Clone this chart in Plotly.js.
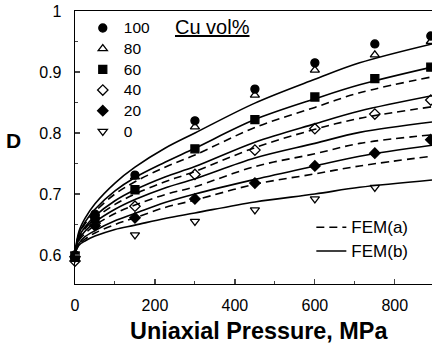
<!DOCTYPE html>
<html>
<head>
<meta charset="utf-8">
<script src="https://cdn.plot.ly/plotly-3.0.1.min.js"></script>
<style>html,body{margin:0;padding:0;background:#fff}#chart{width:432px;height:345px}</style>
</head>
<body>
<div id="chart"></div>
<script>
// Measured points (uniaxial pressure, MPa) and relative density D
const pressurePts = [0, 50, 150, 300, 450, 600, 750, 890];
const cu100 = [0.600, 0.667, 0.731, 0.820, 0.872, 0.915, 0.946, 0.959];
const cu80  = [0.597, 0.664, 0.728, 0.810, 0.862, 0.903, 0.928, 0.950];
const cu60  = [0.596, 0.660, 0.707, 0.774, 0.822, 0.859, 0.889, 0.908];
const cu40  = [0.590, 0.652, 0.680, 0.732, 0.772, 0.807, 0.831, 0.854];
const cu20  = [0.597, 0.648, 0.661, 0.692, 0.718, 0.746, 0.767, 0.789];
const cu0   = [0.602, null, 0.633, 0.655, 0.674, 0.692, 0.711, null];
const seriesNames = ['100', '80', '60', '40', '20', '0'];

// FEM curves
const pressureCurve = [0, 10, 25, 50, 100, 150, 225, 300, 450, 600, 712, 893];
const femB1 = [0.603, 0.639, 0.660, 0.684, 0.718, 0.744, 0.775, 0.800, 0.849, 0.888, 0.915, 0.946];
const femB2 = [0.603, 0.635, 0.654, 0.675, 0.705, 0.727, 0.752, 0.775, 0.822, 0.856, 0.879, 0.908];
const femA1 = [0.603, 0.634, 0.651, 0.671, 0.700, 0.720, 0.744, 0.764, 0.809, 0.842, 0.866, 0.892];
const femB3 = [0.603, 0.630, 0.646, 0.664, 0.689, 0.707, 0.728, 0.745, 0.785, 0.815, 0.836, 0.861];
const femA2 = [0.603, 0.628, 0.643, 0.660, 0.683, 0.700, 0.720, 0.737, 0.776, 0.806, 0.824, 0.843];
const femB4 = [0.603, 0.626, 0.639, 0.654, 0.675, 0.691, 0.710, 0.725, 0.759, 0.783, 0.801, 0.818];
const femA3 = [0.603, 0.624, 0.635, 0.649, 0.668, 0.682, 0.699, 0.712, 0.745, 0.766, 0.783, 0.797];
const femB5 = [0.603, 0.619, 0.630, 0.640, 0.656, 0.668, 0.686, 0.700, 0.724, 0.746, 0.762, 0.780];
const femA4 = [0.603, 0.617, 0.626, 0.636, 0.650, 0.661, 0.678, 0.690, 0.716, 0.733, 0.746, 0.762];
const femB6 = [0.603, 0.616, 0.623, 0.631, 0.642, 0.649, 0.660, 0.669, 0.687, 0.700, 0.711, 0.723];
const femNames = ['FEM(a)', 'FEM(b)'];

const xTicks = [0, 200, 400, 600, 800];
const yTicks = [0.6, 0.7, 0.8, 0.9, 1];
const yTickText = ['0.6', '0.7', '0.8', '0.9', '1'];

const FONT = 'Liberation Sans, Arial, Helvetica, sans-serif';
const traces = [];

const solidCurves = [femB1, femB2, femB3, femB4, femB5, femB6];
const dashedCurves = [femA1, femA2, femA3, femA4];

dashedCurves.forEach((c, i) => traces.push({
  x: pressureCurve, y: c, type: 'scatter', mode: 'lines',
  line: {color: '#000', width: 1.6, dash: '8px,5px', shape: 'spline', smoothing: 1},
  name: '<span style="font-size:17px">' + femNames[0] + '</span>',
  legend: 'legend2', showlegend: i === 0, hoverinfo: 'skip'
}));
solidCurves.forEach((c, i) => traces.push({
  x: pressureCurve, y: c, type: 'scatter', mode: 'lines',
  line: {color: '#000', width: 1.6, shape: 'spline', smoothing: 1},
  name: '<span style="font-size:17px">' + femNames[1] + '</span>',
  legend: 'legend2', showlegend: i === 0, hoverinfo: 'skip'
}));

const pointSeries = [cu100, cu80, cu60, cu40, cu20, cu0];
const symbols = ['circle', 'triangle-up-open', 'square', 'diamond-open', 'diamond', 'triangle-down-open'];
pointSeries.forEach((s, i) => traces.push({
  x: pressurePts, y: s, type: 'scatter', mode: 'markers',
  name: '<span style="font-size:15.5px">' + seriesNames[i] + '</span>',
  cliponaxis: false,
  marker: {symbol: symbols[i], size: 8, color: '#000', line: {color: '#000', width: 1.3}}
}));

const layout = {
  width: 432, height: 345,
  margin: {l: 75, r: 0, t: 11, b: 61},
  paper_bgcolor: '#fff', plot_bgcolor: '#fff',
  font: {family: FONT, color: '#000', size: 16},
  xaxis: {
    range: [0, 893], tickvals: xTicks, ticks: 'inside', ticklen: 5, tickwidth: 1.2,
    minor: {dtick: 100, ticks: 'inside', ticklen: 3, tickwidth: 1},
    showline: true, linewidth: 1.3, linecolor: '#000', mirror: true,
    showgrid: false, zeroline: false, ticklabelstandoff: 6,
    tickfont: {size: 16, family: FONT}
  },
  yaxis: {
    range: [0.5525, 1.0], tickvals: yTicks, ticktext: yTickText,
    ticks: 'inside', ticklen: 5, tickwidth: 1.2,
    minor: {dtick: 0.05, ticks: 'inside', ticklen: 3, tickwidth: 1},
    showline: true, linewidth: 1.3, linecolor: '#000', mirror: false,
    showgrid: false, zeroline: false, ticklabelstandoff: 9,
    tickfont: {size: 16, family: FONT}
  },
  showlegend: true,
  legend: {
    x: 0.019, y: 0.994, xanchor: 'left', yanchor: 'top',
    bgcolor: 'rgba(0,0,0,0)', borderwidth: 0,
    font: {size: 13.6, family: FONT}, itemwidth: 32, tracegroupgap: 0
  },
  legend2: {
    x: 0.662, y: 0.27, xanchor: 'left', yanchor: 'top',
    bgcolor: 'rgba(0,0,0,0)', borderwidth: 0,
    font: {size: 16, family: FONT}, itemwidth: 30
  },
  annotations: [
    {xref: 'paper', yref: 'paper', x: 0.386, y: 0.94, xanchor: 'center', yanchor: 'middle',
     text: '<u>Cu vol%</u>', showarrow: false, font: {size: 20, family: FONT}},
    {xref: 'paper', yref: 'paper', x: -0.173, y: 0.527, xanchor: 'center', yanchor: 'middle',
     text: '<b>D</b>', showarrow: false, font: {size: 21, family: FONT}},
    {xref: 'paper', yref: 'paper', x: 0.515, y: -0.173, xanchor: 'center', yanchor: 'middle',
     text: '<b>Uniaxial Pressure, MPa</b>', showarrow: false, font: {size: 23.4, family: FONT}}
  ]
};

Plotly.newPlot('chart', traces, layout, {displayModeBar: false, staticPlot: true});
</script>
</body>
</html>
